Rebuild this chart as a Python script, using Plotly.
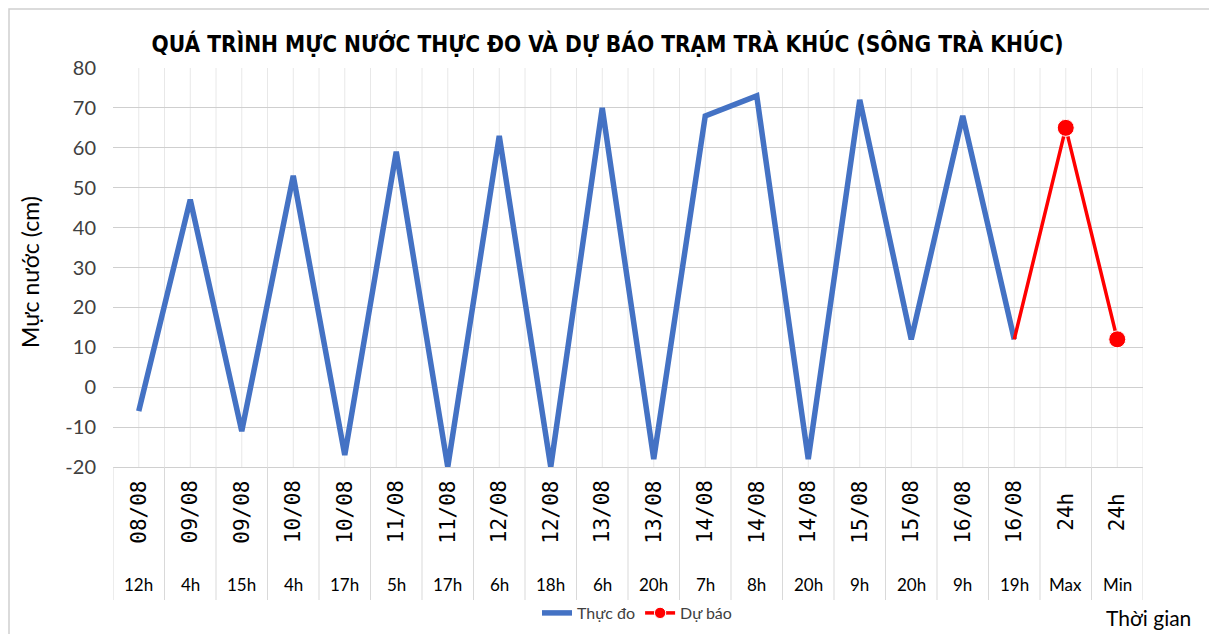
import plotly.graph_objects as go

dates = ["08/08", "09/08", "09/08", "10/08", "10/08", "11/08", "11/08", "12/08", "12/08", "13/08",
         "13/08", "14/08", "14/08", "14/08", "15/08", "15/08", "16/08", "16/08", "24h", "24h"]
hours = ["12h", "4h", "15h", "4h", "17h", "5h", "17h", "6h", "18h", "6h",
         "20h", "7h", "8h", "20h", "9h", "20h", "9h", "19h", "Max", "Min"]
observed = [-6, 47, -11, 53, -17, 59, -20, 63, -20, 70,
            -18, 68, 73, -18, 72, 12, 68, 12]
forecast = [12, 65, 12]
y_ticks = [-20, -10, 0, 10, 20, 30, 40, 50, 60, 70, 80]

cats = [f"{d} {h}" for d, h in zip(dates, hours)]
n_obs = len(observed)

BLUE = "#4472C4"
RED = "#FF0000"
FONT = "Lato, Open Sans, sans-serif"
NARROW = "DejaVu Sans Condensed, Liberation Sans Narrow, Arial Narrow, sans-serif"

# page body has an 8px margin; size the figure to fit the 1217x634 window
OFF = 8
W, H = 1217 - OFF, 634 - OFF
ML, MT = 113 - OFF, 68 - OFF
MR = W - (1143 - OFF)
MB = H - (467 - OFF)
PW, PH = W - ML - MR, H - MT - MB


def px_x(px):  # px in window coords
    return (px - OFF - ML) / PW


def px_y(py):
    return (H - MB - (py - OFF)) / PH


fig = go.Figure()
fig.add_trace(go.Scatter(
    x=cats[:n_obs], y=observed, mode="lines", name="Thực đo",
    line=dict(color=BLUE, width=5.5)))
fig.add_trace(go.Scatter(
    x=cats[n_obs - 1:], y=forecast, mode="lines+markers", name="Dự báo",
    line=dict(color=RED, width=3.5),
    marker=dict(color=RED, size=[0, 17, 17], opacity=1)))

shapes = []
for i in range(len(cats)):
    for off in (0.0, 0.5):
        shapes.append(dict(type="line", xref="x", yref="paper", x0=i + off, x1=i + off,
                           y0=0, y1=1, layer="below",
                           line=dict(color="#e8e8e8", width=1)))
for i in range(len(cats) + 1):
    shapes.append(dict(type="line", xref="x", yref="paper", x0=i - 0.5, x1=i - 0.5,
                       y0=0, y1=px_y(600), line=dict(color="#d9d9d9", width=1)))
shapes.append(dict(type="rect", xref="paper", yref="paper", x0=px_x(9), x1=px_x(1212),
                   y0=px_y(640), y1=px_y(9), line=dict(color="#d0d0d0", width=1.5),
                   fillcolor="rgba(0,0,0,0)"))

annotations = []
for c, d, h in zip(cats, dates, hours):
    annotations.append(dict(x=c, xref="x", y=px_y(512), yref="paper", text=d, textangle=-90,
                            showarrow=False,
                            font=dict(family="DejaVu Sans Mono, monospace", size=21, color="#000000"),
                            xanchor="center", yanchor="middle"))
    annotations.append(dict(x=c, xref="x", y=px_y(584), yref="paper", text=h,
                            showarrow=False, font=dict(family=FONT, size=17, color="#000000"),
                            xanchor="center", yanchor="middle"))
annotations.append(dict(x=px_x(1193), xref="paper", y=px_y(617), yref="paper", text="Thời gian",
                        showarrow=False, font=dict(family=FONT, size=21, color="#000000"),
                        xanchor="right", yanchor="middle"))
annotations.append(dict(x=px_x(30), xref="paper", y=px_y(272), yref="paper", text="Mực nước (cm)",
                        textangle=-90, showarrow=False,
                        font=dict(family=FONT, size=23, color="#000000"),
                        xanchor="center", yanchor="middle"))

fig.update_layout(
    width=W, height=H,
    margin=dict(l=ML, r=MR, t=MT, b=MB, autoexpand=False),
    paper_bgcolor="white", plot_bgcolor="white",
    title=dict(text="<b>QUÁ TRÌNH MỰC NƯỚC THỰC ĐO VÀ DỰ BÁO TRẠM TRÀ KHÚC (SÔNG TRÀ KHÚC)</b>",
               x=(607.5 - OFF) / W, xanchor="center", y=1 - (44 - OFF) / H, yanchor="middle",
               font=dict(family=NARROW, size=22.5, color="#000000")),
    xaxis=dict(type="category", categoryorder="array", categoryarray=cats,
               range=[-0.5, len(cats) - 0.5], showticklabels=False, showgrid=False,
               zeroline=False, showline=True, linecolor="#d0d0d0", linewidth=1, ticks="",
               automargin=False),
    yaxis=dict(range=[-20, 80], tickmode="array", tickvals=y_ticks,
               ticktext=[str(v) for v in y_ticks],
               showgrid=True, gridcolor="#cfcfcf",
               gridwidth=1, zeroline=False, showline=False, ticks="", ticklabelstandoff=16,
               tickfont=dict(family=FONT, size=20, color="#404040"), automargin=False),
    legend=dict(orientation="h", xref="container", yref="container",
                x=(637 - OFF) / W, xanchor="center", y=1 - (613 - OFF) / H, yanchor="middle",
                font=dict(family=FONT, size=16, color="#404040"),
                bgcolor="rgba(0,0,0,0)"),
    shapes=shapes, annotations=annotations,
)

fig.write_html("out.html")
